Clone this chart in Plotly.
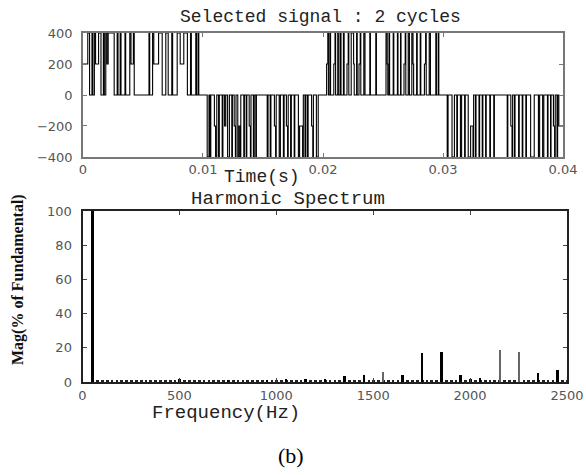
import plotly.graph_objects as go

# ---------------- DATA ----------------
# Selected signal (step waveform): switching instants in ms and the level held after each instant
pos1_t = [0.0, 0.4, 0.55, 0.75, 0.82, 0.95, 1.05, 1.3, 1.5, 1.7, 1.78, 1.9, 2.0, 2.1, 2.6, 2.85, 2.92,
          3.1, 3.17, 3.5, 3.56, 3.9, 4.0, 4.2, 4.27, 5.5, 5.56, 5.8, 5.9, 6.3, 6.6, 6.9, 7.1, 7.4, 7.47,
          7.85, 8.1, 8.4, 8.7, 8.96, 9.03, 9.4, 9.47, 9.6, 9.65]
pos1_v = [200, 400, 0, 400, 0, 400, 200, 400, 0, 400, 0, 400, 200, 400, 0, 400, 0,
          400, 0, 400, 0, 400, 200, 400, 0, 400, 0, 400, 200, 400, 0, 400, 0, 400, 0,
          400, 200, 400, 0, 400, 0, 400, 0, 400, 0]

neg1_t = [10.35, 10.5, 10.57, 10.65, 10.95, 11.05, 11.15, 11.3, 11.36, 11.6, 11.66, 11.8, 11.9, 12.05,
          12.2, 12.4, 12.45, 12.6, 12.7, 12.75, 12.9, 13.0, 13.1, 13.15, 13.4, 13.45, 13.6, 13.65, 13.85,
          13.95, 14.0, 14.2, 14.27, 14.4, 14.45, 15.35, 15.42, 15.6, 15.66, 15.95, 16.05, 16.1, 16.35,
          16.45, 16.7, 16.76, 16.95, 17.05, 17.1, 17.3, 17.36, 17.6, 17.65, 17.95, 18.05, 18.3, 18.36,
          18.5, 18.56, 18.7, 18.76, 19.05, 19.15, 19.2, 19.45, 19.6]
neg1_v = [-400, 0, -400, 0, -200, -400, 0, -400, 0, -400, 0, -200, 0, -400,
          0, -400, 0, -200, -400, 0, -400, -200, -400, 0, -400, 0, -400, 0, -200,
          -400, 0, -400, 0, -400, 0, -400, 0, -400, 0, -200, -400, 0, -400,
          0, -400, 0, -200, -400, 0, -400, 0, -400, 0, -400, -200, -400, 0,
          -400, 0, -400, 0, -200, -400, 0, -400, 0]

pos2_t = [20.3, 20.4, 20.45, 20.57, 20.63, 20.9, 21.0, 21.05, 21.23, 21.28, 21.42, 21.5, 21.7, 21.76,
          22.0, 22.1, 22.15, 22.35, 22.55, 22.6, 22.8, 22.85, 23.0, 23.1, 23.15, 23.4, 23.5, 23.9, 23.95,
          24.4, 24.45, 25.25, 25.35, 25.4, 25.5, 25.55, 25.85, 25.9, 26.2, 26.25, 26.46, 26.5, 26.75,
          26.85, 26.9, 27.1, 27.2, 27.4, 27.5, 27.55, 27.8, 27.85, 28.1, 28.15, 28.45, 28.55, 28.6,
          28.85, 28.95, 29.4, 29.45, 29.6, 29.65]
pos2_v = [200, 400, 0, 400, 0, 200, 400, 0, 400, 0, 400, 0, 400, 0,
          200, 400, 0, 400, 200, 0, 400, 0, 200, 400, 0, 400, 0, 400, 0,
          400, 0, 400, 200, 0, 400, 0, 400, 0, 400, 0, 400, 0, 200,
          400, 0, 400, 0, 400, 200, 0, 400, 0, 400, 0, 200, 400, 0,
          400, 0, 400, 0, 400, 0]

neg2_t = [30.35, 30.42, 30.75, 30.95, 31.15, 31.2, 31.45, 31.55, 31.8, 31.85, 32.1, 32.3, 32.5, 32.55,
          32.7, 32.75, 33.0, 33.05, 33.27, 33.32, 33.55, 33.6, 33.9, 33.95, 34.23, 34.28, 35.35, 35.4,
          35.65, 35.75, 35.8, 35.95, 36.0, 36.3, 36.35, 36.6, 36.65, 36.9, 36.95, 37.3, 37.6, 37.95,
          38.05, 38.3, 38.4, 38.7, 38.75, 38.96, 39.0, 39.2, 39.3, 39.35, 39.5, 39.55, 39.65, 40.0]
neg2_v = [-400, 0, -400, 0, -400, 0, -400, 0, -400, 0, -400, -200, -400, 0,
          -400, 0, -400, 0, -400, 0, -400, 0, -400, 0, -400, 0, -400, 0,
          -200, -400, 0, -400, 0, -400, 0, -400, 0, -400, 0, -400, 0, -400,
          0, -400, 0, -400, 0, -400, 0, -200, -400, 0, -400, 0, -200, -200]

# Harmonic spectrum: low-level floor (every 25 Hz) and distinct harmonics
floor_f = [25 * k for k in range(3, 101)]
floor_m = [0.8, 0.7, 0.8, 0.7, 0.8, 0.7, 0.8, 0.7, 0.8, 0.7, 0.8, 0.7, 0.8, 0.7, 0.8, 0.7, 0.6,
           1.0, 0.7, 0.9, 0.8, 0.7, 0.6, 0.7, 0.6, 0.7, 0.6, 0.7, 0.8, 0.7, 0.8, 0.7, 0.7, 0.8, 0.8,
           0.9, 0.7, 0.8, 0.7, 0.8, 0.7, 0.6, 0.7, 0.6, 0.7, 0.8, 0.7, 0.8, 0.7, 0.8, 0.7, 0.8, 0.7,
           0.8, 0.7, 0.9, 0.7, 0.8, 0.7, 0.8, 0.7, 0.8, 0.7, 0.8, 0.7, 0.8, 0.7, 0.8, 0.7, 0.8, 0.7,
           0.8, 0.7, 0.8, 0.7, 0.8, 0.7, 0.8, 0.7, 0.8, 0.7, 0.8, 0.7, 0.8, 0.7, 0.8, 0.7, 0.8, 0.7,
           0.8, 0.7, 0.8, 0.7, 0.8, 0.7, 0.8, 0.7, 0.8]
harm_f = [50, 500, 750, 950, 1050, 1150, 1250, 1350, 1450, 1650, 1750, 1850, 1950, 2000, 2050, 2350, 2450]
harm_m = [100, 1.5, 1.3, 1.2, 1.5, 2.0, 2.0, 3.7, 3.9, 4.3, 16.8, 17.7, 3.9, 2.0, 2.2, 5.0, 7.0]
thin_f = [1550, 2150, 2250]
thin_m = [6.0, 18.7, 17.5]

# ---------------- FIGURE ----------------
seg_t = [0.0] + pos1_t[1:] + [10.0] + neg1_t + [20.0] + pos2_t + [30.0] + neg2_t
seg_v = [pos1_v[0]] + pos1_v[1:] + [0] + neg1_v + [0] + pos2_v + [0] + neg2_v
sig_t = [t / 1000.0 for t in seg_t]  # ms -> s
sig_v = seg_v

fig = go.Figure()
fig.add_trace(go.Scatter(x=sig_t, y=sig_v, mode="lines", line=dict(color="black", width=1.1, shape="hv"),
                         xaxis="x", yaxis="y", showlegend=False))
fig.add_trace(go.Bar(x=floor_f, y=floor_m, width=14, marker=dict(color="#222", line=dict(width=0)),
                     xaxis="x2", yaxis="y2", showlegend=False))
fig.add_trace(go.Bar(x=harm_f, y=harm_m, width=10, marker=dict(color="black", line=dict(width=0)),
                     xaxis="x2", yaxis="y2", showlegend=False))
fig.add_trace(go.Bar(x=thin_f, y=thin_m, width=5, marker=dict(color="#666", line=dict(width=0)),
                     xaxis="x2", yaxis="y2", showlegend=False))

tickfont = dict(family="DejaVu Sans", size=13, color="#555")
mono = "Courier New, Liberation Mono, monospace"

common_ax = dict(showgrid=False, zeroline=False, showline=True, mirror="ticks", ticks="inside",
                 ticklen=4, tickfont=tickfont, automargin=False)

fig.update_layout(
    width=586, height=475, margin=dict(l=0, r=0, t=0, b=0, pad=0), autosize=False,
    paper_bgcolor="white", plot_bgcolor="white", barmode="overlay", bargap=0,
    xaxis=dict(domain=[0.1416, 0.9608], anchor="y", range=[0, 0.04], tickvals=[0, 0.01, 0.02, 0.03, 0.04],
               ticktext=["0", "0.01", "0.02", "0.03", "0.04"], linecolor="#777", linewidth=1.5,
               tickcolor="#777", **common_ax),
    yaxis=dict(domain=[0.6695, 0.9305], anchor="x", range=[-400, 400], tickvals=[-400, -200, 0, 200, 400],
               linecolor="#777", linewidth=1.5, tickcolor="#777", ticklabelstandoff=6, **common_ax),
    xaxis2=dict(domain=[0.1408, 0.9676], anchor="y2", range=[0, 2500], tickvals=[0, 500, 1000, 1500, 2000, 2500],
                linecolor="#222", linewidth=2, tickcolor="#444", **common_ax),
    yaxis2=dict(domain=[0.1958, 0.5558], anchor="x2", range=[0, 100], tickvals=[0, 20, 40, 60, 80, 100],
                linecolor="#222", linewidth=2, tickcolor="#444", ticklabelstandoff=6, **common_ax),
)

annotations = [
    dict(text="Selected signal : 2 cycles", x=320, y=17, font=dict(family=mono, size=18, color="#222")),
    dict(text="Time(s)", x=262, y=177, font=dict(family=mono, size=18, color="#222")),
    dict(text="Harmonic Spectrum", x=288, y=199, font=dict(family=mono, size=19, color="#222")),
    dict(text="Frequency(Hz)", x=226, y=413, font=dict(family=mono, size=19, color="#222")),
    dict(text="(b)", x=291, y=455, font=dict(family="Liberation Serif, Times New Roman, serif", size=22, color="black")),
]
for a in annotations:
    fig.add_annotation(text=a["text"], x=a["x"] / 586, y=1 - a["y"] / 475, xref="paper", yref="paper",
                       showarrow=False, xanchor="center", yanchor="middle", font=a["font"])
fig.add_annotation(text="<b>Mag(% of Fundamental)</b>", x=18 / 586, y=1 - 280 / 475, xref="paper", yref="paper",
                   showarrow=False, textangle=-90, xanchor="center", yanchor="middle",
                   font=dict(family="Liberation Serif, Times New Roman, serif", size=16, color="#111"))

fig.write_html("out.html")
